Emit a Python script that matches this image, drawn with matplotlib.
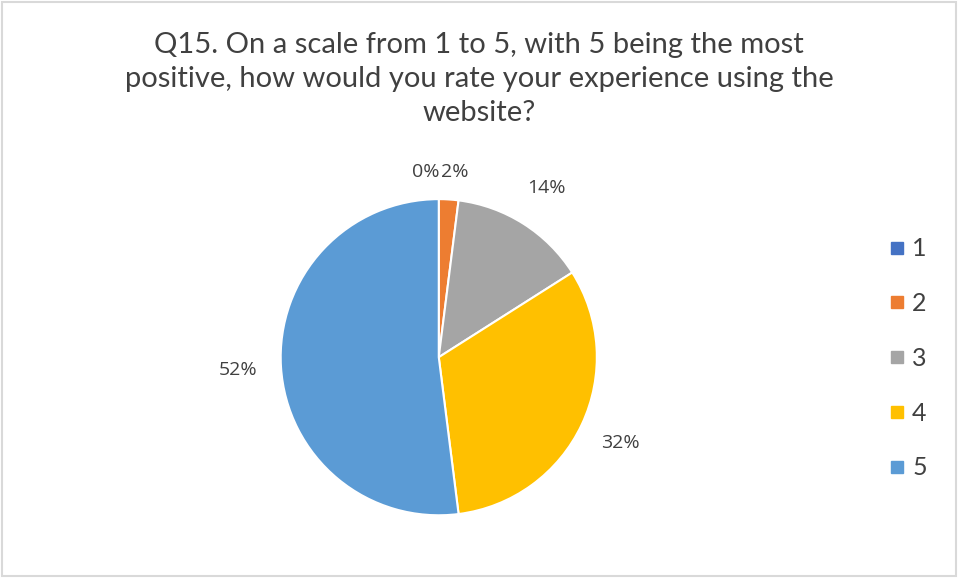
import numpy as np
import matplotlib.pyplot as plt
from matplotlib.lines import Line2D
from matplotlib.patches import Rectangle

# survey answers, Q15
ratings = ['1', '2', '3', '4', '5']
shares = [0, 2, 14, 32, 52]
colors = ['#4472C4', '#ED7D31', '#A5A5A5', '#FFC000', '#5B9BD5']

plt.rcParams['font.family'] = ['Lato', 'DejaVu Sans']

fig = plt.figure(figsize=(9.58, 5.78), dpi=100)
fig.patches.append(Rectangle((0.002, 0.003), 0.996, 0.994, transform=fig.transFigure,
                             fill=False, edgecolor='#D9D9D9', linewidth=1.5))

fig.text(0.5, 0.945, 'Q15. On a scale from 1 to 5, with 5 being the most\n'
         'positive, how would you rate your experience using the\nwebsite?',
         ha='center', va='top', fontsize=21, color='#404040', linespacing=1.38)

ax = fig.add_axes([0.293, 0.1085, 0.330, 0.547])
wedges, _ = ax.pie(shares, colors=colors, startangle=90, counterclock=False,
                   wedgeprops=dict(edgecolor='white', linewidth=1.5))
ax.set_xlim(-1, 1)
ax.set_ylim(-1, 1)

# percent labels outside each slice
dist = [1.17, 1.17, 1.27, 1.27, 1.27]
total = sum(shares)
start = 0
for i, v in enumerate(shares):
    mid = (start + v / 2) / total * 2 * np.pi
    start += v
    x = dist[i] * np.sin(mid)
    y = dist[i] * np.cos(mid)
    if i == 0:
        x = -0.08
    if i == 1:
        x = 0.10
        y = 1.17
    ax.text(x, y, f'{v}%', ha='center', va='center', fontsize=14,
            color='#404040', family=['Open Sans', 'DejaVu Sans'])

handles = [Line2D([], [], marker='s', linestyle='none', markersize=9,
                  markerfacecolor=c, markeredgecolor=c) for c in colors]
fig.legend(handles, ratings, loc='center left', bbox_to_anchor=(0.90, 0.38),
           frameon=False, fontsize=18, labelspacing=1.27, handletextpad=0.1,
           handlelength=1.0, labelcolor='#404040')

plt.savefig('out.png', dpi=100)
